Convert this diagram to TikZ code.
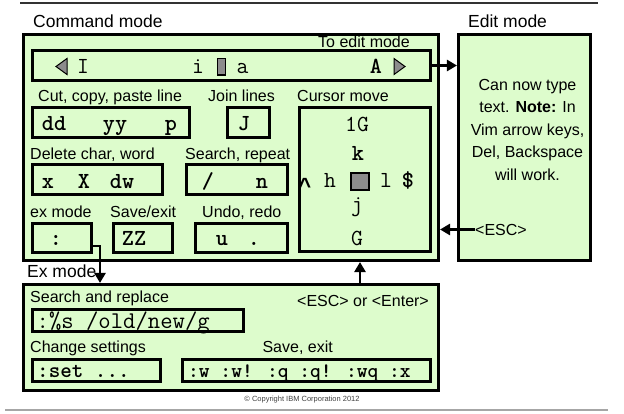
\documentclass[tikz,border=0pt]{standalone}
\usepackage{fontspec}
\setmainfont{Liberation Sans}
\newfontfamily\caretfont{Liberation Mono}
\usetikzlibrary{arrows.meta}

\definecolor{vimgreen}{RGB}{221,252,204}
\definecolor{cursorgrey}{RGB}{140,140,140}

\tikzset{
    modebox/.style={draw, line width=2.6pt, fill=vimgreen, inner sep=0pt},
    keybox/.style={draw, line width=2.6pt, inner sep=0pt},
    lbl/.style={anchor=base west, inner sep=0pt, font=\fontsize{16}{19}\selectfont},
    title/.style={anchor=base west, inner sep=0pt, font=\fontsize{17.5}{21}\selectfont},
    key/.style={anchor=base, inner sep=0pt, font=\ttfamily\bfseries\fontsize{23}{27}\selectfont},
    thinkey/.style={anchor=base, inner sep=0pt, font=\ttfamily\fontsize{23}{27}\selectfont},
    arr/.style={line width=2.8pt, -{Triangle[length=10pt,width=11pt]}},
}

\begin{document}
\begin{tikzpicture}[x=1pt,y=-1pt] %Modos de vim
            \useasboundingbox (0,0) rectangle (624,413);
            \draw[line width=1.2pt, color=black!80] (20,3) -- (598,3);
            \draw[line width=1.5pt, color=black!35] (5,410) -- (608,410);

            \node[modebox, minimum width=415.5pt, minimum height=226.5pt] (cmd) at (231,147.5) {};
            \node[modebox, minimum width=132.5pt, minimum height=226.5pt] (edit) at (524.5,147.5) {};
            \node[modebox, minimum width=415.5pt, minimum height=106.5pt] (ex) at (231,337.5) {};

            \node[title] (cmdlbl) at (33,27.5) {Command mode};
            \node[title] (editlbl) at (468,27.5) {Edit mode};
            \node[title] (exlbl) at (27,277) {Ex mode};
            \node[lbl, anchor=base east] (toedit) at (410,47) {To edit mode};

            \node[keybox, minimum width=398.5pt, minimum height=30.5pt] (ins) at (231.5,65.5) {};
            \node[keybox, minimum width=157.5pt, minimum height=30.5pt] (cut) at (111,122.5) {};
            \node[keybox, minimum width=42.5pt, minimum height=30.5pt] (join) at (248.5,122.5) {};
            \node[keybox, minimum width=131.5pt, minimum height=144.5pt] (cursor) at (365,179.5) {};
            \node[keybox, minimum width=130.5pt, minimum height=30.5pt] (del) at (97.5,179.5) {};
            \node[keybox, minimum width=101.5pt, minimum height=30.5pt] (search) at (237,179.5) {};
            \node[keybox, minimum width=59.5pt, minimum height=29.5pt] (colon) at (62,238) {};
            \node[keybox, minimum width=59.5pt, minimum height=29.5pt] (zz) at (143,238) {};
            \node[keybox, minimum width=92.5pt, minimum height=29.5pt] (undo) at (241.5,238) {};
            \node[keybox, minimum width=211.5pt, minimum height=22.5pt] (subst) at (138,320.5) {};
            \node[keybox, minimum width=128.5pt, minimum height=22.5pt] (settings) at (96.5,370.5) {};
            \node[keybox, minimum width=248.5pt, minimum height=22.5pt] (save) at (306.5,370.5) {};

            \node[lbl] (cutlbl) at (38,101) {Cut, copy, paste line};
            \node[lbl] (joinlbl) at (208,101) {Join lines};
            \node[lbl] (curlbl) at (297,101) {Cursor move};
            \node[lbl] (dellbl) at (30,159.5) {Delete char, word};
            \node[lbl] (searchlbl) at (185,159.5) {Search, repeat};
            \node[lbl] (exmodelbl) at (30,217.5) {ex mode};
            \node[lbl] (zzlbl) at (110,217.5) {Save/exit};
            \node[lbl] (undolbl) at (202,217.5) {Undo, redo};
            \node[lbl] (sublbl) at (30,302) {Search and replace};
            \node[lbl] (retlbl) at (297,306) {<ESC> or <Enter>};
            \node[lbl] (setlbl) at (30,352) {Change settings};
            \node[lbl, anchor=base east] (savelbl) at (333,352) {Save, exit};

            \filldraw[fill=cursorgrey, line width=1pt] (56,66.5) -- (67,58.5) -- (67,74.5) -- cycle;
            \filldraw[fill=cursorgrey, line width=1pt] (405,66.5) -- (394,58.5) -- (394,74.5) -- cycle;
            \filldraw[fill=cursorgrey, line width=1.2pt] (217.5,58.5) rectangle (225.5,75);
            \filldraw[fill=cursorgrey, line width=1.8pt] (351,173) rectangle (369,190);

            \node[thinkey] (keyI) at (83,73) {I};
            \node[thinkey] (keyi) at (198,73) {i};
            \node[thinkey] (keya) at (242.5,73) {a};
            \node[key] (keyA) at (376,73) {A};

            \node[key] (dd) at (54,130) {dd};
            \node[key] (yy) at (115,130) {yy};
            \node[key] (p) at (171,130) {p};
            \node[key] (J) at (244,130) {J};
            \node[key] (x) at (48,188) {x};
            \node[key] (X) at (84,188) {X};
            \node[key] (dw) at (122,188) {dw};
            \node[key] (slash) at (208,188) {/};
            \node[key] (n) at (262,188) {n};
            \node[key] (colonkey) at (56,245) {:};
            \node[key] (ZZ) at (134,245) {ZZ};
            \node[key] (u) at (222,245) {u};
            \node[key] (dot) at (254,245) {.};
            \node[thinkey, anchor=base west, font=\ttfamily\fontsize{24}{28}\selectfont] (subkey) at (36.5,328) {:\%s /old/new/g};
            \node[key, anchor=base west, font=\ttfamily\bfseries\fontsize{22}{26}\selectfont] (setkey) at (37,377) {:set ...};
            \node[key, anchor=base west, font=\ttfamily\bfseries\fontsize{20.5}{24}\selectfont] (savekey) at (188,377) {:w :w! :q :q! :wq :x};

            \node[thinkey] (oneG) at (357,131) {1G};
            \node[key] (k) at (358,160) {k};
            \node[key, font=\caretfont\bfseries\fontsize{22}{26}\selectfont] (caret) at (305,193) {\textasciicircum};
            \node[thinkey] (h) at (330,187) {h};
            \node[thinkey] (l) at (386,187) {l};
            \node[key] (dollar) at (408,187) {\$};
            \node[thinkey] (j) at (357,211) {j};
            \node[thinkey] (G) at (357,245) {G};

            \node[align=center, inner sep=0pt, font=\fontsize{16}{22.5}\selectfont] (note) at (527.5,129.5) {Can now type\\text. \textbf{Note:} In\\Vim arrow keys,\\Del, Backspace\\will work.};
            \node[lbl] (esc) at (475,235) {<ESC>};
            \node[anchor=base, inner sep=0pt, font=\fontsize{7.5}{9}\selectfont, text=black!75] (copy) at (302,401.5) {© Copyright IBM Corporation 2012};

            \coordinate (exdrop) at (100,0);
            \coordinate (uparr) at (360,0);
            \draw[arr] (ins.east) -- (edit.west |- ins.east);
            \draw[arr] (esc.west) -- (cmd.east |- esc.west);
            \draw[arr] ([yshift=-8pt]colon.east) -| (ex.north -| exdrop);
            \draw[arr] (uparr |- ex.north) -- (uparr |- cmd.south);
        \end{tikzpicture}
\end{document}
